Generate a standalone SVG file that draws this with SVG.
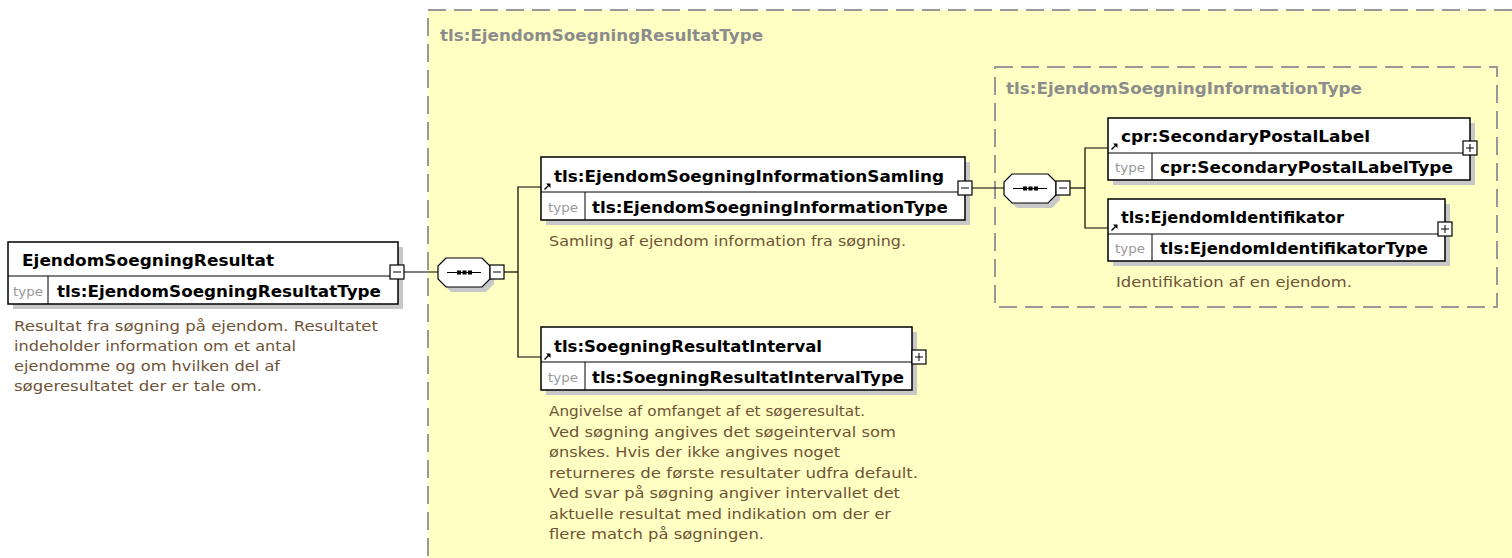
<svg xmlns="http://www.w3.org/2000/svg" width="1512" height="558" viewBox="0 0 1512 558">
<style>
.bg{fill:#ffffff}
.grp{fill:#ffffc4;stroke:#999999;stroke-width:2;stroke-dasharray:18 8}
.grpt{font-family:"DejaVu Sans",sans-serif;font-weight:bold;font-size:15px;fill:#8c8c8c}
.box{fill:#ffffff;stroke:#000000;stroke-width:1.5}
.shd{fill:#c8c8c8}
.div{stroke:#000000;stroke-width:1;fill:none}
.t{font-family:"DejaVu Sans",sans-serif;font-weight:bold;font-size:15.5px;fill:#000000}
.ty{font-family:"DejaVu Sans",sans-serif;font-size:12px;fill:#999999}
.d{font-family:"DejaVu Sans",sans-serif;font-size:13.5px;fill:#6e5436}
.ln{stroke:#000000;stroke-width:1.2;fill:none}
.btn{fill:#ffffff;stroke:#000000;stroke-width:1.2}
.oct{fill:#ffffff;stroke:#000000;stroke-width:1.2}
.octs{fill:#c8c8c8}
</style>
<defs>
<g id="minus"><rect class="btn" x="0" y="0" width="14" height="14"/><line class="div" x1="3" y1="7" x2="11" y2="7"/></g>
<g id="plus"><rect class="btn" x="0" y="0" width="14" height="14"/><line class="div" x1="3" y1="7" x2="11" y2="7"/><line class="div" x1="7" y1="3" x2="7" y2="11"/></g>
<g id="ref"><path d="M0.5 6.5 L5.5 1.5" stroke="#000" stroke-width="1.4" fill="none"/><path d="M2 0.5 L6.5 0.5 L6.5 5 Z" fill="#000"/></g>
<g id="seq">
<polygon class="octs" points="13,5 48,5 56,13 56,26 48,34 13,34 5,26 5,13"/>
<polygon class="oct" points="8,0 44,0 52,8 52,21 44,29 8,29 0,21 0,8"/>
<line class="div" x1="9" y1="14.5" x2="43" y2="14.5"/>
<rect x="19" y="12.5" width="4" height="4" fill="#000"/>
<rect x="24.5" y="12.5" width="4" height="4" fill="#000"/>
<rect x="30" y="12.5" width="4" height="4" fill="#000"/>
</g>
</defs>
<rect class="bg" x="0" y="0" width="1512" height="558"/>

<g id="group-resultattype">
<rect class="grp" x="428" y="10" width="1110" height="580"/>
<text class="grpt" x="440" y="41" textLength="323" lengthAdjust="spacingAndGlyphs">tls:EjendomSoegningResultatType</text>
</g>
<g id="group-informationtype">
<rect class="grp" x="995" y="67" width="502" height="240"/>
<text class="grpt" x="1006" y="94" textLength="356" lengthAdjust="spacingAndGlyphs">tls:EjendomSoegningInformationType</text>
</g>

<g id="connectors">
<line class="ln" x1="404" y1="272" x2="438" y2="272"/>
<line class="ln" x1="504" y1="272" x2="518" y2="272"/>
<polyline class="ln" points="541,187 518,187 518,357 541,357"/>
<line class="ln" x1="972" y1="188" x2="1005" y2="188"/>
<line class="ln" x1="1070" y1="188" x2="1085" y2="188"/>
<polyline class="ln" points="1108,148 1085,148 1085,228 1108,228"/>
</g>

<g id="node-main">
<rect class="shd" x="13" y="247" width="390" height="62"/>
<rect class="box" x="8" y="242" width="390" height="62"/>
<line class="div" x1="8" y1="276" x2="398" y2="276"/>
<line class="div" x1="48" y1="276" x2="48" y2="304"/>
<text class="t" x="22" y="266" textLength="252" lengthAdjust="spacingAndGlyphs">EjendomSoegningResultat</text>
<text class="ty" x="13" y="296" textLength="30" lengthAdjust="spacingAndGlyphs">type</text>
<text class="t" x="57" y="297" textLength="324" lengthAdjust="spacingAndGlyphs">tls:EjendomSoegningResultatType</text>
<use href="#minus" x="390" y="265"/>
<text class="d" x="14" y="331" textLength="364" lengthAdjust="spacingAndGlyphs">Resultat fra søgning på ejendom. Resultatet</text>
<text class="d" x="14" y="351" textLength="282" lengthAdjust="spacingAndGlyphs">indeholder information om et antal</text>
<text class="d" x="14" y="371" textLength="266" lengthAdjust="spacingAndGlyphs">ejendomme og om hvilken del af</text>
<text class="d" x="14" y="391" textLength="248" lengthAdjust="spacingAndGlyphs">søgeresultatet der er tale om.</text>
</g>

<g id="seq-1">
<use href="#seq" x="438" y="258"/>
<use href="#minus" x="490" y="265"/>
</g>

<g id="node-informationsamling">
<rect class="shd" x="546" y="162" width="424" height="63"/>
<rect class="box" x="541" y="157" width="424" height="63"/>
<line class="div" x1="541" y1="192" x2="965" y2="192"/>
<line class="div" x1="585" y1="192" x2="585" y2="220"/>
<use href="#ref" x="544" y="183"/>
<text class="t" x="554" y="182" textLength="390" lengthAdjust="spacingAndGlyphs">tls:EjendomSoegningInformationSamling</text>
<text class="ty" x="548" y="212" textLength="30" lengthAdjust="spacingAndGlyphs">type</text>
<text class="t" x="592" y="213" textLength="356" lengthAdjust="spacingAndGlyphs">tls:EjendomSoegningInformationType</text>
<use href="#minus" x="958" y="181"/>
<text class="d" x="549" y="246" textLength="357" lengthAdjust="spacingAndGlyphs">Samling af ejendom information fra søgning.</text>
</g>

<g id="seq-2">
<use href="#seq" x="1004" y="174"/>
<use href="#minus" x="1056" y="181"/>
</g>

<g id="node-secondarypostallabel">
<rect class="shd" x="1113" y="123" width="362" height="62"/>
<rect class="box" x="1108" y="118" width="362" height="62"/>
<line class="div" x1="1108" y1="153" x2="1470" y2="153"/>
<line class="div" x1="1152" y1="153" x2="1152" y2="180"/>
<use href="#ref" x="1111" y="143"/>
<text class="t" x="1121" y="142" textLength="249" lengthAdjust="spacingAndGlyphs">cpr:SecondaryPostalLabel</text>
<text class="ty" x="1115" y="172" textLength="30" lengthAdjust="spacingAndGlyphs">type</text>
<text class="t" x="1160" y="173" textLength="293" lengthAdjust="spacingAndGlyphs">cpr:SecondaryPostalLabelType</text>
<use href="#plus" x="1463" y="141"/>
</g>

<g id="node-ejendomidentifikator">
<rect class="shd" x="1113" y="204" width="337" height="62"/>
<rect class="box" x="1108" y="199" width="337" height="62"/>
<line class="div" x1="1108" y1="234" x2="1445" y2="234"/>
<line class="div" x1="1152" y1="234" x2="1152" y2="261"/>
<use href="#ref" x="1111" y="224"/>
<text class="t" x="1121" y="223" textLength="223" lengthAdjust="spacingAndGlyphs">tls:EjendomIdentifikator</text>
<text class="ty" x="1115" y="253" textLength="30" lengthAdjust="spacingAndGlyphs">type</text>
<text class="t" x="1160" y="254" textLength="268" lengthAdjust="spacingAndGlyphs">tls:EjendomIdentifikatorType</text>
<use href="#plus" x="1438" y="222"/>
<text class="d" x="1116" y="287" textLength="236" lengthAdjust="spacingAndGlyphs">Identifikation af en ejendom.</text>
</g>

<g id="node-resultatinterval">
<rect class="shd" x="546" y="332" width="371" height="63"/>
<rect class="box" x="541" y="327" width="371" height="63"/>
<line class="div" x1="541" y1="362" x2="912" y2="362"/>
<line class="div" x1="585" y1="362" x2="585" y2="390"/>
<use href="#ref" x="544" y="353"/>
<text class="t" x="554" y="352" textLength="268" lengthAdjust="spacingAndGlyphs">tls:SoegningResultatInterval</text>
<text class="ty" x="548" y="382" textLength="30" lengthAdjust="spacingAndGlyphs">type</text>
<text class="t" x="592" y="383" textLength="312" lengthAdjust="spacingAndGlyphs">tls:SoegningResultatIntervalType</text>
<use href="#plus" x="912" y="350"/>
<text class="d" x="549" y="416" textLength="316" lengthAdjust="spacingAndGlyphs">Angivelse af omfanget af et søgeresultat.</text>
<text class="d" x="549" y="436.5" textLength="347" lengthAdjust="spacingAndGlyphs">Ved søgning angives det søgeinterval som</text>
<text class="d" x="549" y="457" textLength="291" lengthAdjust="spacingAndGlyphs">ønskes. Hvis der ikke angives noget</text>
<text class="d" x="549" y="477.5" textLength="369" lengthAdjust="spacingAndGlyphs">returneres de første resultater udfra default.</text>
<text class="d" x="549" y="498" textLength="351" lengthAdjust="spacingAndGlyphs">Ved svar på søgning angiver intervallet det</text>
<text class="d" x="549" y="518.5" textLength="342" lengthAdjust="spacingAndGlyphs">aktuelle resultat med indikation om der er</text>
<text class="d" x="549" y="539" textLength="215" lengthAdjust="spacingAndGlyphs">flere match på søgningen.</text>
</g>
</svg>
